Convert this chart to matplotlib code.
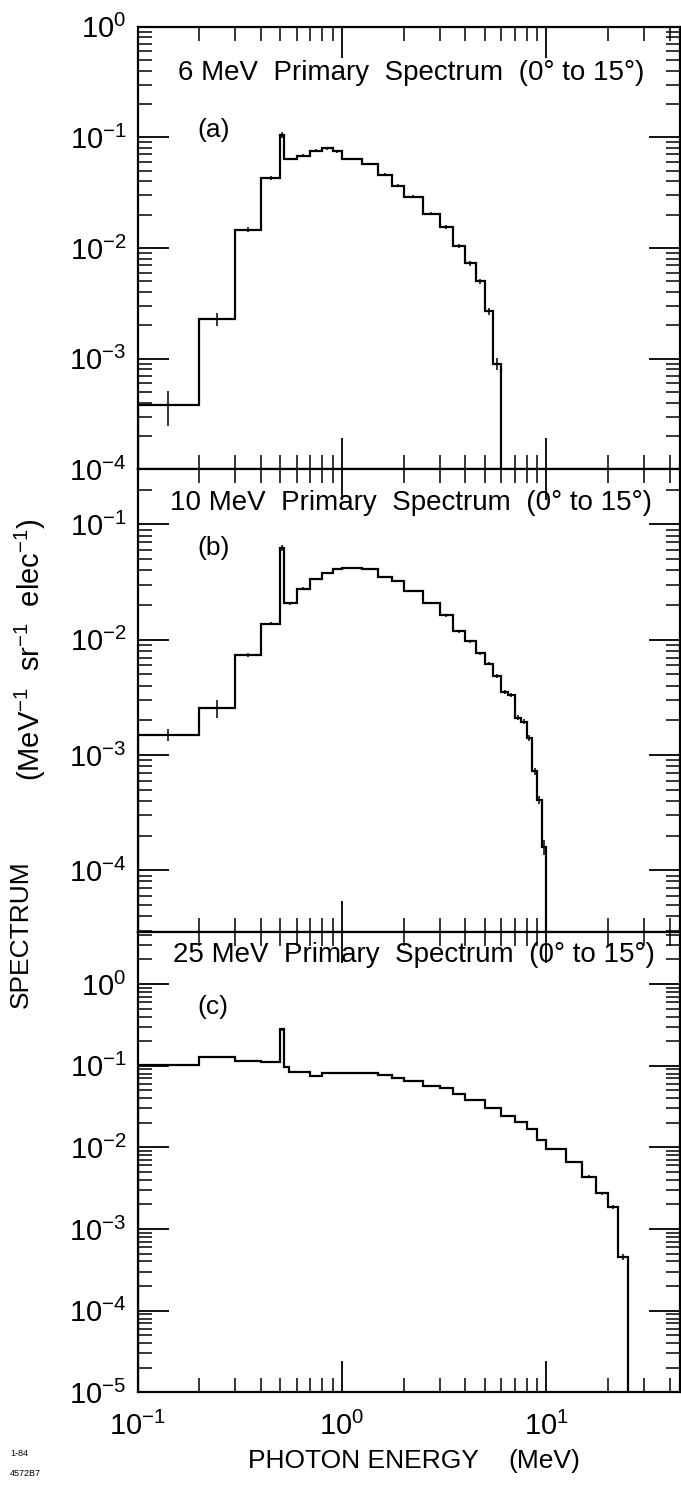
import numpy as np
import matplotlib
matplotlib.use("Agg")
import matplotlib.pyplot as plt
from matplotlib.ticker import LogLocator, LogFormatterMathtext, NullFormatter

plt.rcParams['font.family'] = ['Liberation Sans', 'DejaVu Sans']
plt.rcParams['mathtext.fontset'] = 'custom'
plt.rcParams['mathtext.rm'] = 'Liberation Sans'
plt.rcParams['mathtext.it'] = 'Liberation Sans:italic'
plt.rcParams['mathtext.bf'] = 'Liberation Sans:bold'

# ---------------- data ----------------
titles = ["6 MeV  Primary  Spectrum  (0° to 15°)",
          "10 MeV  Primary  Spectrum  (0° to 15°)",
          "25 MeV  Primary  Spectrum  (0° to 15°)"]
panel_tags = ["(a)", "(b)", "(c)"]

edges_a = [0.1, 0.2, 0.3, 0.4, 0.5, 0.52, 0.6, 0.7, 0.8, 0.9, 1.0, 1.25, 1.5,
           1.75, 2.0, 2.5, 3.0, 3.5, 4.0, 4.5, 5.0, 5.5, 6.0]
values_a = [3.8e-4, 2.28e-3, 1.46e-2, 4.28e-2, 0.105, 0.0637, 0.0682, 0.0757,
            0.0795, 0.0747, 0.0637, 0.0574, 0.046, 0.0365, 0.029, 0.0205,
            0.0156, 0.0105, 7.25e-3, 4.99e-3, 2.67e-3, 9.0e-4]
relerr_a = [0.35, 0.13, 0.05, 0.04, 0.06, 0.03, 0.03, 0.03, 0.03, 0.03, 0.03,
            0.03, 0.03, 0.03, 0.03, 0.03, 0.04, 0.04, 0.05, 0.06, 0.07, 0.12]

edges_b = [0.1, 0.2, 0.3, 0.4, 0.5, 0.52, 0.6, 0.7, 0.8, 0.9, 1.0, 1.25, 1.5,
           1.75, 2.0, 2.5, 3.0, 3.5, 4.0, 4.5, 5.0, 5.5, 6.0, 6.5, 7.0, 7.5,
           8.0, 8.5, 9.0, 9.5, 10.0]
values_b = [1.49e-3, 2.55e-3, 7.4e-3, 1.37e-2, 0.0626, 0.0206, 0.0276, 0.0339,
            0.038, 0.0411, 0.0418, 0.0412, 0.0351, 0.0321, 0.0263, 0.0208,
            0.0162, 0.0118, 9.7e-3, 7.66e-3, 6.18e-3, 4.86e-3, 3.55e-3,
            3.33e-3, 2.1e-3, 1.95e-3, 1.40e-3, 7.2e-4, 4.06e-4, 1.6e-4]
relerr_b = [0.12, 0.18, 0.04, 0.03, 0.06, 0.03, 0.03, 0.02, 0.02, 0.02, 0.02,
            0.02, 0.02, 0.02, 0.02, 0.02, 0.03, 0.03, 0.03, 0.03, 0.03, 0.04,
            0.04, 0.04, 0.05, 0.05, 0.06, 0.07, 0.08, 0.15]

edges_c = [0.1, 0.2, 0.3, 0.4, 0.5, 0.52, 0.55, 0.6, 0.7, 0.8, 1.0, 1.25, 1.5,
           1.75, 2.0, 2.5, 3.0, 3.5, 4.0, 5.0, 6.0, 7.0, 8.0, 9.0, 10.0, 12.5,
           15.0, 17.5, 20.0, 22.5, 25.0]
values_c = [0.1007, 0.1275, 0.114, 0.1096, 0.279, 0.096, 0.0842, 0.0842,
            0.0744, 0.082, 0.0818, 0.081, 0.0766, 0.071, 0.0645, 0.057, 0.054,
            0.0451, 0.0384, 0.0304, 0.024, 0.0202, 0.0168, 0.0124, 9.5e-3,
            6.56e-3, 4.37e-3, 2.73e-3, 1.87e-3, 4.53e-4]
relerr_c = [0.02, 0.02, 0.02, 0.02, 0.04, 0.03, 0.03, 0.02, 0.02, 0.02, 0.02,
            0.02, 0.02, 0.02, 0.02, 0.02, 0.02, 0.02, 0.02, 0.02, 0.02, 0.02,
            0.03, 0.03, 0.03, 0.03, 0.04, 0.04, 0.05, 0.08]

ylims = [(1e-4, 1.0), (2.9e-5, 0.30), (1e-5, 4.3)]
xlim = (0.1, 45.0)
xtick_values = [0.1, 1.0, 10.0]

# ---------------- figure ----------------
W, H = 681, 1489
fig = plt.figure(figsize=(W / 100, H / 100), dpi=100)

left = 137.5 / W
right = 680.0 / W
bounds_px = [(26.7, 469.3), (469.3, 932.3), (932.3, 1392.3)]

datasets = [(edges_a, values_a, relerr_a),
            (edges_b, values_b, relerr_b),
            (edges_c, values_c, relerr_c)]

title_pos = [(411, 73), (411, 503), (414, 955)]
tag_pos = [(214, 130), (214, 548), (213, 1007)]

axes = []
for i, ((top, bot), (edges, vals, rel)) in enumerate(zip(bounds_px, datasets)):
    ax = fig.add_axes([left, 1 - bot / H, right - left, (bot - top) / H])
    axes.append(ax)
    ax.set_xscale('log')
    ax.set_yscale('log')
    ax.set_xlim(*xlim)
    ax.set_ylim(*ylims[i])

    e = np.array(edges)
    v = np.array(vals)
    ax.stairs(v, e, baseline=ylims[i][0] * 0.5, color='black', lw=1.6)
    centers = np.sqrt(e[:-1] * e[1:])
    err = v * np.array(rel)
    ax.errorbar(centers, v, yerr=err, fmt='none', ecolor='black',
                elinewidth=1.1, capsize=0)

    ax.xaxis.set_major_locator(LogLocator(base=10, numticks=10))
    ax.xaxis.set_minor_locator(LogLocator(base=10, subs=np.arange(2, 10), numticks=20))
    ax.yaxis.set_major_locator(LogLocator(base=10, numticks=12))
    ax.yaxis.set_minor_locator(LogLocator(base=10, subs=np.arange(2, 10), numticks=20))
    ax.yaxis.set_major_formatter(LogFormatterMathtext())
    ax.yaxis.set_minor_formatter(NullFormatter())
    ax.xaxis.set_minor_formatter(NullFormatter())

    ax.tick_params(which='both', direction='in', top=True, right=True,
                   color='black')
    ax.tick_params(which='major', length=22, width=1.3)
    ax.tick_params(which='minor', length=10, width=1.1)
    ax.tick_params(axis='y', which='major', labelsize=21, pad=8)
    for s in ax.spines.values():
        s.set_linewidth(1.6)

    if i < 2:
        ax.tick_params(axis='x', labelbottom=False)
    else:
        ax.set_xticks(xtick_values)
        ax.xaxis.set_major_formatter(LogFormatterMathtext())
        ax.tick_params(axis='x', which='major', labelsize=21, pad=14)

    tx, ty = title_pos[i]
    fig.text(tx / W, 1 - ty / H, titles[i], ha='center', va='center',
             fontsize=20)
    gx, gy = tag_pos[i]
    fig.text(gx / W, 1 - gy / H, panel_tags[i], ha='center', va='center',
             fontsize=19)

# axis labels
fig.text(21 / W, 1 - 934 / H, "SPECTRUM", rotation=90, ha='center',
         va='center', fontsize=19)
fig.text(30 / W, 1 - 650 / H, r"(MeV$^{-1}$  sr$^{-1}$  elec$^{-1}$)",
         rotation=90, ha='center', va='center', fontsize=21)
fig.text(248 / W, 1 - 1461 / H, "PHOTON ENERGY", ha='left', va='center',
         fontsize=19)
fig.text(508 / W, 1 - 1461 / H, "(MeV)", ha='left', va='center', fontsize=19)
fig.text(10 / W, 1 - 1453 / H, "1-84", ha='left', va='center', fontsize=6.5)
fig.text(10 / W, 1 - 1474 / H, "4572B7", ha='left', va='center', fontsize=6.5)

fig.savefig("out.png", dpi=100, facecolor='white')
